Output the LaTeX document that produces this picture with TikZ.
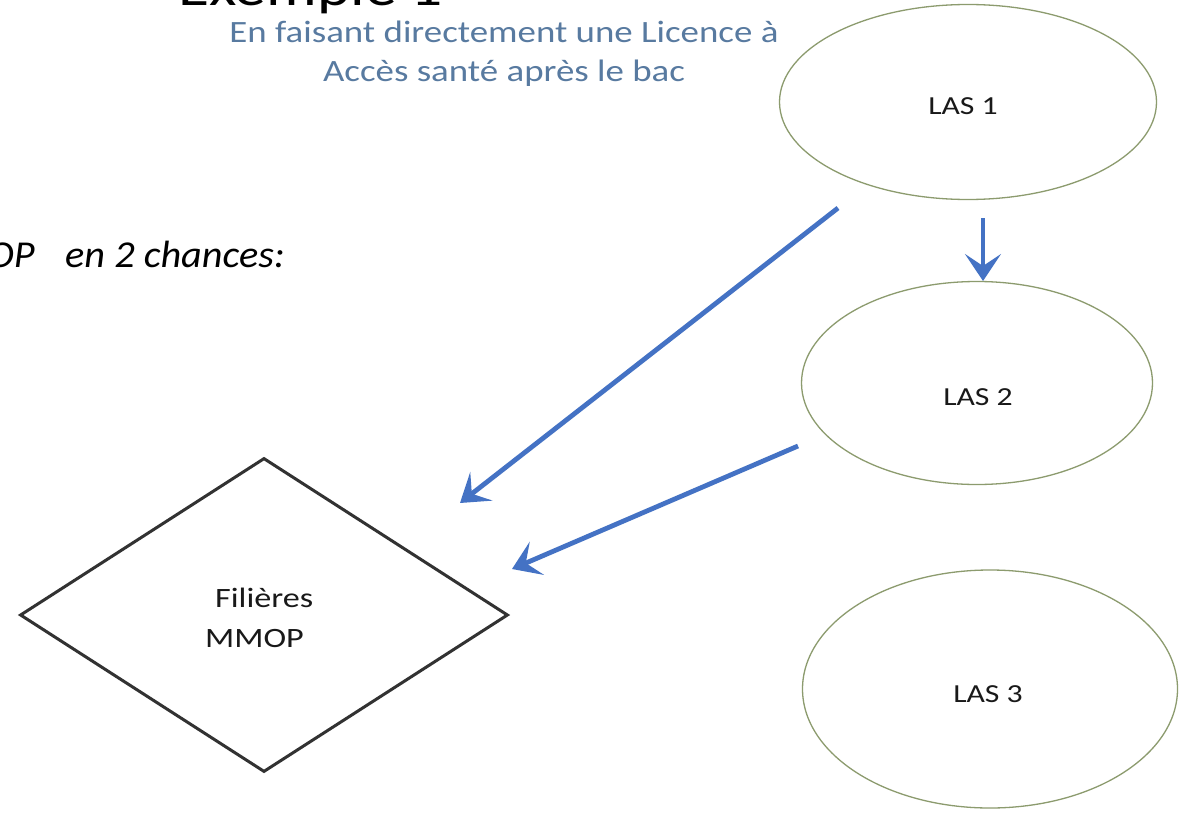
\documentclass[tikz,border=0pt]{standalone}
\usepackage{fontspec}
\usetikzlibrary{arrows.meta,shapes.geometric}
\newfontfamily\calw[FakeStretch=1.22]{Carlito}
\newfontfamily\calb[FakeStretch=1.19]{Carlito}
\newfontfamily\cali[FakeStretch=1.06]{Carlito}
\definecolor{arrowblue}{RGB}{68,114,196}
\definecolor{ellgreen}{RGB}{140,155,110}
\definecolor{textblue}{RGB}{88,122,160}
\definecolor{diagray}{RGB}{50,50,50}
\tikzset{
  lasell/.style={draw=ellgreen, line width=1.3pt, ellipse, inner sep=0pt},
  lbl/.style={inner sep=0pt, anchor=base, font=\calw\fontsize{26}{30}\selectfont, text=black!90},
  bluetxt/.style={inner sep=0pt, anchor=base, font=\calb\fontsize{31}{38}\selectfont, text=textblue},
  flow/.style={draw=arrowblue, line width=4.8pt, -{Stealth[length=27pt,width=36pt,inset=12pt]}},
}
\begin{document}
\begin{tikzpicture}[x=1pt,y=-1pt]
\useasboundingbox[fill=white] (0,0) rectangle (1190,813);
% title, cut off at the top
\node[inner sep=0pt, anchor=base west, font=\calw\fontsize{52}{60}\selectfont] (title) at (178,6) {Exemple 1};
% blue caption
\node[bluetxt] (cap1) at (504,43) {En faisant directement une Licence à};
\node[bluetxt] (cap2) at (504,82) {Accès santé après le bac};
% italic line
\node[inner sep=0pt, anchor=base east, font=\cali\itshape\fontsize{38}{44}\selectfont] (op) at (35,267) {OP};
\node[inner sep=0pt, anchor=base west, font=\cali\itshape\fontsize{38}{44}\selectfont] (chances) at (65,267) {en 2 chances:};
% ellipses
\node[lasell, minimum width=377pt, minimum height=195pt] (las1) at (968,102) {};
\node[lasell, minimum width=351pt, minimum height=203pt] (las2) at (977,383) {};
\node[lasell, minimum width=375pt, minimum height=238pt] (las3) at (990,689) {};
\node[lbl] (las1t) at (963,115) {LAS 1};
\node[lbl] (las2t) at (978,405) {LAS 2};
\node[lbl] (las3t) at (988,702) {LAS 3};
% diamond
\node[draw=diagray, line width=3pt, diamond, minimum width=488pt, minimum height=314pt, inner sep=0pt] (mmop) at (264,615) {};
\node[lbl, anchor=base west, font=\calw\fontsize{28}{32}\selectfont] (fil) at (215,607) {Filières};
\node[lbl, anchor=base west, font=\calw\fontsize{28}{32}\selectfont] (mm) at (205,647) {MMOP};
% connector end points
\coordinate (a1s) at (838,208);
\coordinate (a1e) at (460,503);
\coordinate (a2s) at (983,218);
\coordinate (a2e) at (983,281);
\coordinate (a3s) at (798,446);
\coordinate (a3e) at (512,569);
\draw[flow] (a1s) -- (a1e);
\draw[flow] (a2s) -- (a2e);
\draw[flow] (a3s) -- (a3e);
\end{tikzpicture}
\end{document}
